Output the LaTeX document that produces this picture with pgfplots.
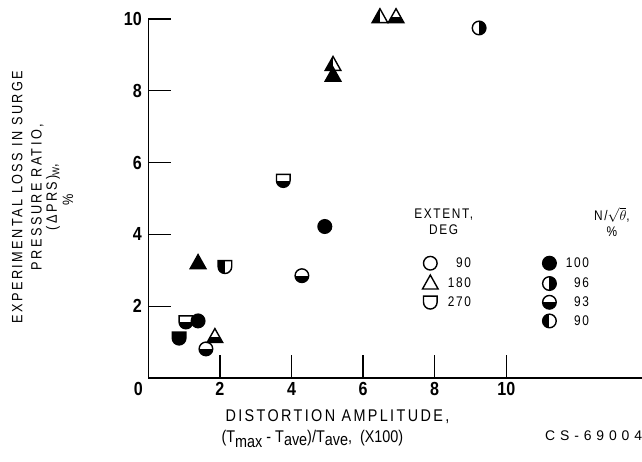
\documentclass[border=0pt]{standalone}
\usepackage{fontspec}
\setmainfont{Liberation Sans}[FakeStretch=0.85]
\newfontfamily\csfont{Liberation Sans}[LetterSpace=35]
\usepackage{pgfplots}
\pgfplotsset{compat=1.18}
\makeatletter
\def\shape@c{\pgfpathcircle{\pgfpointorigin}{\pgfplotmarksize}}
\def\shape@t{\pgfpathmoveto{\pgfpoint{0pt}{1.25\pgfplotmarksize}}%
  \pgfpathlineto{\pgfpoint{-1.15\pgfplotmarksize}{-0.8\pgfplotmarksize}}%
  \pgfpathlineto{\pgfpoint{1.15\pgfplotmarksize}{-0.8\pgfplotmarksize}}\pgfpathclose}
\def\shape@s{\pgfpathmoveto{\pgfpoint{-\pgfplotmarksize}{0.9\pgfplotmarksize}}%
  \pgfpathlineto{\pgfpoint{\pgfplotmarksize}{0.9\pgfplotmarksize}}%
  \pgfpathlineto{\pgfpoint{\pgfplotmarksize}{0pt}}%
  \pgfpatharc{0}{-180}{\pgfplotmarksize}\pgfpathclose}
\def\reg@r{\pgfpathrectangle{\pgfpoint{0pt}{-2\pgfplotmarksize}}{\pgfpoint{2\pgfplotmarksize}{4\pgfplotmarksize}}}
\def\reg@l{\pgfpathrectangle{\pgfpoint{-2\pgfplotmarksize}{-2\pgfplotmarksize}}{\pgfpoint{2\pgfplotmarksize}{4\pgfplotmarksize}}}
\def\reg@b{\pgfpathrectangle{\pgfpoint{-2\pgfplotmarksize}{-2\pgfplotmarksize}}{\pgfpoint{4\pgfplotmarksize}{2\pgfplotmarksize}}}
\def\halfmark#1#2{\pgfscope#1\pgfusepath{clip}#2\pgfusepath{fill}\endpgfscope#1\pgfusepath{stroke}}
\pgfdeclareplotmark{c-full}{\shape@c\pgfusepath{fill,stroke}}
\pgfdeclareplotmark{t-full}{\shape@t\pgfusepath{fill,stroke}}
\pgfdeclareplotmark{s-full}{\shape@s\pgfusepath{fill,stroke}}
\pgfdeclareplotmark{c-open}{\shape@c\pgfusepath{stroke}}
\pgfdeclareplotmark{t-open}{\shape@t\pgfusepath{stroke}}
\pgfdeclareplotmark{s-open}{\shape@s\pgfusepath{stroke}}
\pgfdeclareplotmark{c-bot}{\halfmark\shape@c\reg@b}
\pgfdeclareplotmark{t-bot}{\halfmark\shape@t\reg@b}
\pgfdeclareplotmark{s-bot}{\halfmark\shape@s\reg@b}
\pgfdeclareplotmark{c-right}{\halfmark\shape@c\reg@r}
\pgfdeclareplotmark{t-right}{\halfmark\shape@t\reg@r}
\pgfdeclareplotmark{s-right}{\halfmark\shape@s\reg@r}
\pgfdeclareplotmark{c-left}{\halfmark\shape@c\reg@l}
\pgfdeclareplotmark{t-left}{\halfmark\shape@t\reg@l}
\pgfdeclareplotmark{s-left}{\halfmark\shape@s\reg@l}
\makeatother
\newcommand{\lgf}{\fontsize{14}{16}\selectfont\addfontfeatures{LetterSpace=12}}
\newcommand{\xlf}{\fontsize{17}{19}\selectfont\addfontfeatures{LetterSpace=14}}
\newcommand{\xlfb}{\fontsize{17}{19}\selectfont}
\newcommand{\ylf}{\fontsize{15}{17}\selectfont\addfontfeatures{LetterSpace=16}}
\newcommand{\tkf}{\fontsize{19}{21}\selectfont\bfseries}
\begin{document}
\begin{tikzpicture}
\useasboundingbox (0,0) rectangle (642bp,462bp);
\begin{axis}[
  at={(148.3bp,84bp)}, anchor=origin,
  x=35.8bp, y=35.9bp,
  xmin=0, xmax=13.8, ymin=0, ymax=10,
  axis x line=bottom, axis y line=left,
  axis line style={-, line width=1.5bp, black},
  tick align=inside, major tick length=23bp,
  tick style={line width=1.3bp, black},
  xtick={2,4,...,10}, ytick={2,4,...,10},
  /pgf/number format/assume math mode=true,
  ticklabel style={font=\tkf},
  yticklabel style={xshift=-3bp},
  xticklabel style={yshift=-1bp},
  clip=false,
  every axis plot/.append style={only marks, mark size=6.8bp,
    mark options={draw=black, fill=black, line width=1.4bp, solid}},
  legend columns=2,
  legend cell align=right,
  legend style={at={(axis cs:7.55,3.47)}, anchor=north west, draw=none, fill=none,
    font=\lgf, row sep=3.5bp,
    /tikz/every odd column/.append style={column sep=7bp},
    /tikz/every even column/.append style={column sep=69bp}},
]
\addplot[mark=s-full, forget plot] coordinates {(0.86,1.11)};
\addplot[mark=s-bot, forget plot] coordinates {(1.05,1.56) (3.77,5.50)};
\addplot[mark=c-full, forget plot] coordinates {(1.39,1.59) (4.93,4.22)};
\addplot[mark=c-bot, forget plot] coordinates {(1.61,0.81) (4.29,2.85)};
\addplot[mark=t-bot, forget plot] coordinates {(1.86,1.14) (6.92,10.05)};
\addplot[mark=t-full, forget plot] coordinates {(1.39,3.20) (5.16,8.42)};
\addplot[mark=s-left, forget plot] coordinates {(2.14,3.10)};
\addplot[mark=t-left, forget plot] coordinates {(5.16,8.72) (6.47,10.05)};
\addplot[mark=c-right, forget plot] coordinates {(9.24,9.75)};
\addlegendimage{only marks, mark=c-open}\addlegendentry{90}
\addlegendimage{only marks, mark=c-full}\addlegendentry{100}
\addlegendimage{only marks, mark=t-open}\addlegendentry{180}
\addlegendimage{only marks, mark=c-right}\addlegendentry{96}
\addlegendimage{only marks, mark=s-open}\addlegendentry{270}
\addlegendimage{only marks, mark=c-bot}\addlegendentry{93}
\addlegendimage{empty legend}\addlegendentry{}
\addlegendimage{only marks, mark=c-left}\addlegendentry{90}
\node[font=\tkf, anchor=north] at (axis cs:-0.28,0) [yshift=-1bp] {0};
\node[font=\xlf, anchor=base west] at (axis cs:2.06,-1.2) {DISTORTION AMPLITUDE,};
\node[font=\xlfb, anchor=base west] at (axis cs:1.95,-1.81) {(T\raisebox{-0.45ex}{max} - T\raisebox{-0.3ex}{ave})/T\raisebox{-0.3ex}{ave},\ \ (X100)};
\node[font=\fontsize{14}{15}\selectfont\csfont, anchor=base east, inner sep=0pt] at (axis cs:13.8,-1.75) {CS-69004};
\node[font=\ylf, rotate=90, anchor=center] at (axis cs:-3.66,5.04) {EXPERIMENTAL LOSS IN SURGE};
\node[font=\ylf, rotate=90, anchor=center] at (axis cs:-3.1,5.04) {PRESSURE RATIO,};
\node[font=\ylf, rotate=90, anchor=center] at (axis cs:-2.66,5.04) {(ΔPRS)\raisebox{-0.3ex}{\fontsize{10}{10}\selectfont W},};
\node[font=\ylf, rotate=90, anchor=center] at (axis cs:-2.24,4.95) {\%};
\node[font=\lgf, align=center] at (axis cs:8.25,4.35) {EXTENT,\\DEG};
\node[font=\lgf, align=center] at (axis cs:12.95,4.35) {N/$\sqrt{\theta}$,\\\%};
\end{axis}
\end{tikzpicture}
\end{document}
